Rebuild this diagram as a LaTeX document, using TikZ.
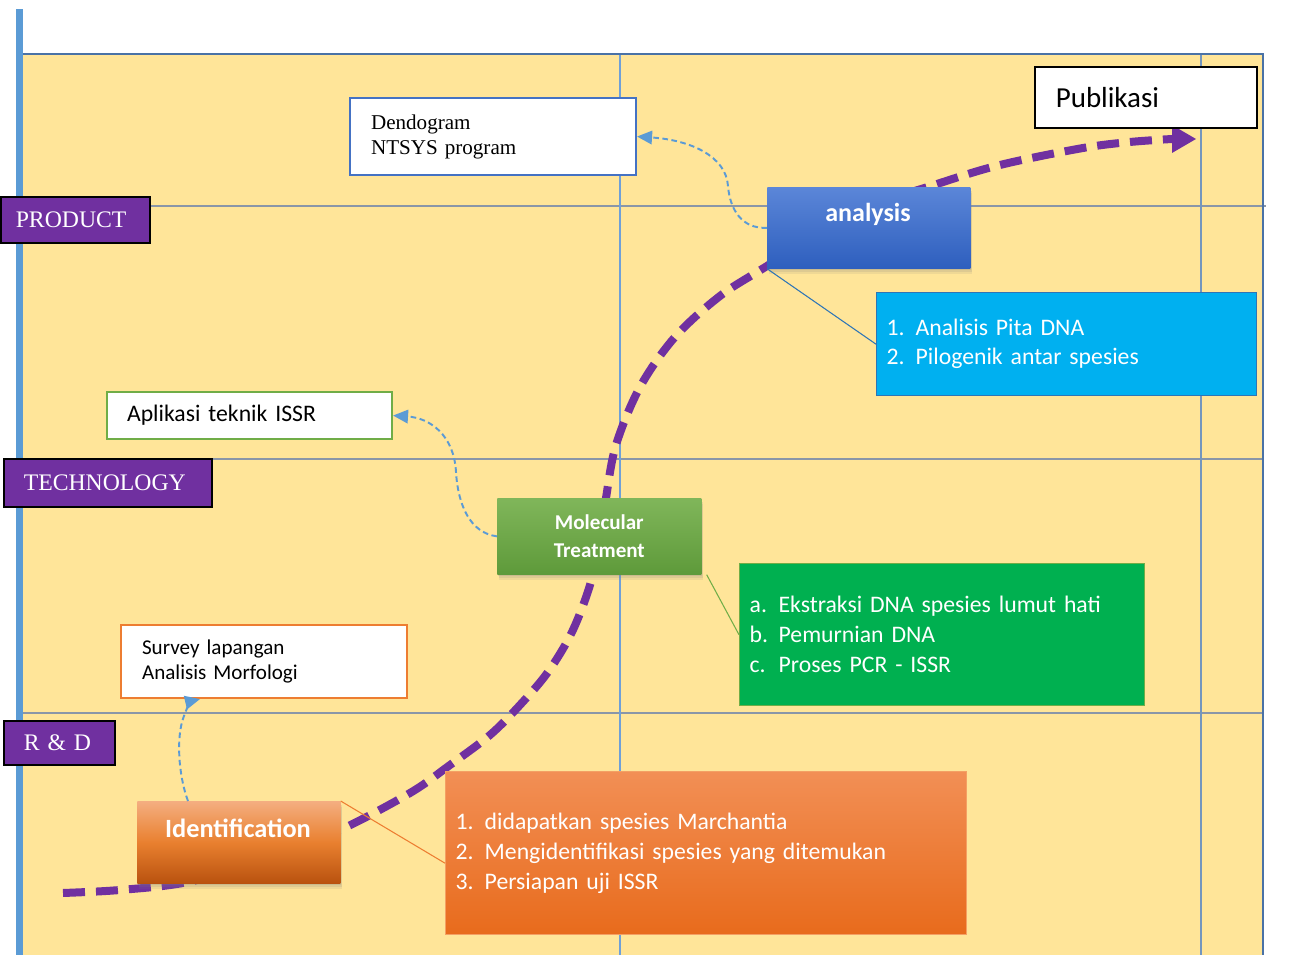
\documentclass[tikz,border=0pt]{standalone}
\usepackage{fontspec}
\setmainfont{Carlito}
\newfontfamily\tnr{Liberation Serif}
\usetikzlibrary{arrows.meta,calc,shadows}
\definecolor{bgyellow}{HTML}{FFE599}
\definecolor{barblue}{HTML}{5B9BD5}
\definecolor{framec}{HTML}{4A72A6}
\definecolor{gridgrey}{HTML}{8A96A8}
\definecolor{gridblue}{HTML}{6FA0D8}
\definecolor{labpurple}{HTML}{7030A0}
\definecolor{curvepurple}{HTML}{7030A0}
\definecolor{dendoblue}{HTML}{4472C4}
\definecolor{anatop}{HTML}{5B86D8}
\definecolor{anabot}{HTML}{2E5FBE}
\definecolor{moltop}{HTML}{80B65A}
\definecolor{molbot}{HTML}{5E9A3A}
\definecolor{idtop}{HTML}{F4AE80}
\definecolor{idmid}{HTML}{E9802F}
\definecolor{idbot}{HTML}{B9520F}
\definecolor{cyanbox}{HTML}{00B0F0}
\definecolor{cyanedge}{HTML}{2E75B6}
\definecolor{greenbox}{HTML}{00B050}
\definecolor{greenedge}{HTML}{70AD47}
\definecolor{orgtop}{HTML}{F28F55}
\definecolor{orgbot}{HTML}{E86B1C}
\definecolor{orgedge}{HTML}{F4A064}
\definecolor{aplgreen}{HTML}{70AD47}
\definecolor{survorange}{HTML}{ED7D31}
\begin{document}
\begin{tikzpicture}[x=0.02cm,y=-0.02cm,
  lbl/.style={draw=black, line width=0.9pt, fill=labpurple, text=white,
    font=\tnr\fontsize{13.5}{16}\selectfont, anchor=north west, inner ysep=0pt, align=left},
  wbox/.style={fill=white, anchor=north west, inner ysep=0pt, align=left, text=black},
  listbox/.style={anchor=north west, inner ysep=0pt, align=left, text=white,
    font=\fontsize{13.5}{16.6}\selectfont},
  headbox/.style={anchor=north west, inner sep=0pt, minimum width=4.06cm},
  headtext/.style={text=white, font=\bfseries\fontsize{14.8}{17}\selectfont},
  shad/.style={drop shadow={shadow xshift=1pt, shadow yshift=-3.5pt, opacity=0.12},
               drop shadow={shadow xshift=0.7pt, shadow yshift=-2.2pt, opacity=0.15},
               drop shadow={shadow xshift=0.4pt, shadow yshift=-1.2pt, opacity=0.2}},
  bluearrow/.style={draw=barblue, line width=1.1pt, dash pattern=on 3.2pt off 2pt,
    -{Triangle[length=0.3cm,width=0.27cm]}},
  bigcurve/.style={draw=curvepurple, line width=0.16cm, dash pattern=on 0.44cm off 0.22cm},
  bigtip/.style={fill=curvepurple}
]
\useasboundingbox (0,0) rectangle (1289,955);
% background
\fill[bgyellow] (23,54) rectangle (1263,955);
% grid lines
\draw[gridgrey, line width=0.6pt] (150,206) -- (1266,206);
\draw[gridgrey, line width=0.6pt] (211,459) -- (1263,459);
\draw[gridgrey, line width=0.6pt] (20,713) -- (1263,713);
\draw[gridblue, line width=0.6pt] (620,54) -- (620,955);
\draw[gridblue!70!gray, line width=0.6pt] (1201,54) -- (1201,955);
% frame
\draw[framec, line width=1.6pt] (23,54) -- (1263,54) -- (1263,955);
\fill[barblue] (16,9) rectangle (23,955);

% big dashed purple curve
\coordinate (cstart) at (63,893);
\coordinate (cend) at (1172,139);
\coordinate (ctip) at (1196,139);
\draw[bigcurve] plot[smooth, tension=0.55] coordinates {
  (cstart) (120,890) (188,882) (265,860) (340,830) (410,793) (450,765) (490,735)
  (520,705) (548,672) (572,632) (590,585) (600,540) (606,498) (616,445)
  (640,387) (675,337) (720,296) (767,266) (850,214) (934,185) (1000,165)
  (1083,148) (1130,142) (cend)};
\fill[bigtip] (ctip) -- ($(cend)+(0,-14)$) -- ($(cend)+(0,14)$) -- cycle;

% side labels
\node[lbl, minimum height=0.92cm, inner xsep=0.3cm, text width=2.38cm] (prod) at (0,196) {PRODUCT};
\node[lbl, minimum height=0.96cm, inner xsep=0.4cm, text width=3.36cm] (tech) at (3,458) {TECHNOLOGY};
\node[lbl, minimum height=0.88cm, inner xsep=0.4cm, text width=1.42cm] (rnd) at (3,720) {R \& D};

% white boxes
\node[wbox, draw=dendoblue, line width=1.2pt, minimum height=1.54cm, inner xsep=0.42cm, text width=4.88cm,
  font=\tnr\fontsize{12}{14.2}\selectfont] (dendo) at (349,97) {Dendogram\\NTSYS program};
\node[wbox, draw=black, line width=0.9pt, minimum height=1.22cm, inner xsep=0.42cm, text width=3.6cm,
  font=\fontsize{16.5}{19}\selectfont] (publ) at (1034,66) {Publikasi};
\node[wbox, draw=aplgreen, line width=1.2pt, minimum height=0.94cm, inner xsep=0.4cm, text width=4.9cm,
  font=\fontsize{13.5}{16}\selectfont] (aplik) at (106,391) {Aplikasi teknik ISSR};
\node[wbox, draw=survorange, line width=1.2pt, minimum height=1.46cm, inner xsep=0.42cm, text width=4.88cm,
  font=\fontsize{12}{14.7}\selectfont] (survey) at (120,624) {Survey lapangan\\Analisis Morfologi};

% main step boxes
\node[headbox, minimum height=1.62cm, top color=anatop, bottom color=anabot, shad] (ana) at (767,187) {};
\node[headtext] (anatext) at (868,214) {analysis};
\node[headbox, minimum width=4.08cm, minimum height=1.52cm, top color=moltop, bottom color=molbot, shad,
  text=white, align=center, font=\bfseries\fontsize{12}{15.8}\selectfont] (mol) at (497,498) {Molecular\\Treatment};
\node[headbox, minimum height=1.64cm, top color=idtop, bottom color=idbot, middle color=idmid, shad] (ident) at (137,801) {};
\node[headtext, font=\bfseries\fontsize{15}{17}\selectfont] (idtext) at (238,828) {Identification};

% list boxes
\node[listbox, fill=cyanbox, draw=cyanedge, line width=0.8pt, minimum height=2.06cm, inner xsep=0.2cm, text width=7.2cm] (cyan) at (876,292)
  {\makebox[0.58cm][l]{1.}Analisis Pita DNA\\\makebox[0.58cm][l]{2.}Pilogenik antar spesies};
\node[listbox, fill=greenbox, draw=greenedge, line width=0.8pt, minimum height=2.84cm, inner xsep=0.2cm, text width=7.7cm,
  font=\fontsize{13.5}{17}\selectfont] (grn) at (739,563)
  {\makebox[0.58cm][l]{a.}Ekstraksi DNA spesies lumut hati\\\makebox[0.58cm][l]{b.}Pemurnian DNA\\\makebox[0.58cm][l]{c.}Proses PCR - ISSR};
\node[listbox, top color=orgtop, bottom color=orgbot, draw=orgedge, line width=0.8pt, minimum height=3.26cm, inner xsep=0.2cm, text width=10.02cm,
  font=\fontsize{13.5}{16.9}\selectfont] (orng) at (445,771)
  {\makebox[0.58cm][l]{1.}didapatkan spesies Marchantia\\\makebox[0.58cm][l]{2.}Mengidentifikasi spesies yang ditemukan\\\makebox[0.58cm][l]{3.}Persiapan uji ISSR};

% callout lines
\draw[cyanedge, line width=0.6pt] (ana.south west) -- (cyan.west);
\draw[aplgreen, line width=0.6pt] ($(mol.south east)+(5,0)$) -- (grn.west);
\draw[survorange, line width=0.6pt] (ident.north east) -- ($(orng.west)+(0,10)$);

% blue dashed arrows
\draw[bluearrow] (ana.west) .. controls (742,229) and (730,210) .. (728,186)
  .. controls (726,156) and (690,140) .. (dendo.east);
\draw[bluearrow] (mol.west) .. controls (470,533) and (458,505) .. (456,472)
  .. controls (454,435) and (430,418) .. (aplik.east);
\draw[bluearrow] ($(ident.north west)+(51,0)$) .. controls (180,780) and (176,745) .. (182,722)
  .. controls (186,708) and (192,701) .. ($(survey.south west)+(80,0)$);
\end{tikzpicture}
\end{document}
